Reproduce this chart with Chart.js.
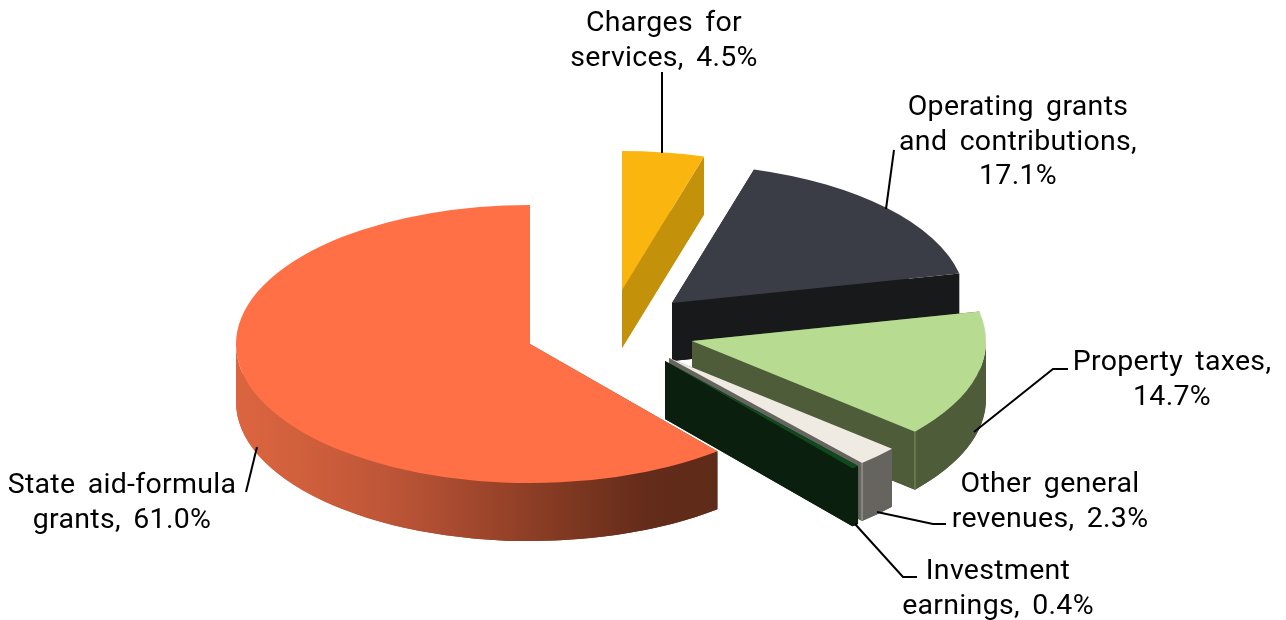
<!DOCTYPE html>
<html>
<head>
<meta charset="utf-8">
<title>Revenue by source</title>
<script src="https://cdn.jsdelivr.net/npm/chart.js@4/dist/chart.umd.js"></script>
<style>
    html, body { margin: 0; padding: 0; background: #fff; overflow: hidden; }
    canvas { display: block; }
</style>
</head>
<body>
<canvas id="revenueChart" width="1286" height="620"></canvas>
<script>
// Slices, clockwise from twelve o'clock. %v is swapped for the value when labels are drawn
const categories = [
    'Charges for\nservices, %v%',
    'Operating grants\nand contributions,\n%v%',
    'Property taxes,\n%v%',
    'Other general\nrevenues, %v%',
    'Investment\nearnings, %v%',
    'State aid-formula\ngrants, %v%'
];
const shares = [4.5, 17.1, 14.7, 2.3, 0.4, 61.0];

const topColors = ['#fbb50f', '#3a3d45', '#b7dc91', '#efeae2', '#0f4a1c', '#ff7046'];
const wallColors = ['#c4910b', '#18191b', '#4e5c3a', '#65645f', '#0a1f0e', null];
const seamColors = [null, null, '#7f9460', '#a8a7a2', null, null];

// Back-to-front paint order, and how far each slice is pulled away from the pie centre
const paintOrder = [1, 0, 5, 2, 3, 4];
const sliceShift = [[-21, -20], [29, -7], [49, 31], [26, 48], [22, 51], [-113, 34]];

const TILT = 0.473;
const DEPTH = 58;

// Leader lines and where each label is centred
const leaders = [
    [[662, 72], [662, 153]],
    [[894, 150], [886, 209]],
    [[1068, 369], [1053, 369], [974, 432]],
    [[946, 524], [933, 524], [877, 512]],
    [[917, 577], [903, 577], [855, 524]],
    [[257, 447], [246, 492]]
];
const labelAnchors = [[664, 31], [1018, 115], [1172, 370], [1050, 492], [998, 579], [122, 493]];

function arcGeometry(arc, dx, dy) {
    const p = arc.getProps(['x', 'y', 'startAngle', 'endAngle', 'outerRadius']);
    return { cx: p.x + dx, cy: p.y + dy, a0: p.startAngle, a1: p.endAngle, rx: p.outerRadius, ry: p.outerRadius * TILT };
}

function rimPoint(g, angle) {
    return [g.cx + g.rx * Math.cos(angle), g.cy + g.ry * Math.sin(angle)];
}

function fillSector(ctx, g, dy) {
    ctx.beginPath();
    ctx.moveTo(g.cx, g.cy + dy);
    ctx.ellipse(g.cx, g.cy + dy, g.rx, g.ry, 0, g.a0, g.a1);
    ctx.closePath();
    ctx.fill();
}

// Flat cut face between the apex and the rim at one angle
function fillCutFace(ctx, g, angle) {
    const [x, y] = rimPoint(g, angle);
    ctx.beginPath();
    ctx.moveTo(g.cx, g.cy);
    ctx.lineTo(x, y);
    ctx.lineTo(x, y + DEPTH);
    ctx.lineTo(g.cx, g.cy + DEPTH);
    ctx.closePath();
    ctx.fill();
}

// Only the front half of the rim (angles 0 to PI on canvas) can be seen
function fillRim(ctx, g) {
    const from = Math.max(g.a0, 0);
    const to = Math.min(g.a1, Math.PI);
    if (from >= to) return;
    ctx.beginPath();
    ctx.ellipse(g.cx, g.cy, g.rx, g.ry, 0, from, to);
    ctx.ellipse(g.cx, g.cy + DEPTH, g.rx, g.ry, 0, to, from, true);
    ctx.closePath();
    ctx.fill();
}

// The big slice's wall darkens towards its right end
function stateAidWall(ctx) {
    const grad = ctx.createLinearGradient(236, 0, 717, 0);
    grad.addColorStop(0, '#dc6540');
    grad.addColorStop(0.15, '#cf5f3c');
    grad.addColorStop(0.35, '#b95336');
    grad.addColorStop(0.6, '#8f3f26');
    grad.addColorStop(0.85, '#642c1a');
    grad.addColorStop(1, '#5f2b19');
    return grad;
}

// Pie controller that extrudes every slice and squashes it into an ellipse
class Pie3DController extends Chart.PieController {
    draw() {
        const ctx = this.chart.ctx;
        const arcs = this.getMeta().data;
        paintOrder.forEach(i => {
            const [dx, dy] = sliceShift[i];
            const g = arcGeometry(arcs[i], dx, dy);
            ctx.save();
            ctx.fillStyle = wallColors[i] || stateAidWall(ctx);
            fillSector(ctx, g, DEPTH);
            fillCutFace(ctx, g, g.a0);
            fillCutFace(ctx, g, g.a1);
            fillRim(ctx, g);
            if (seamColors[i]) {
                const [x, y] = rimPoint(g, g.a1);
                ctx.strokeStyle = seamColors[i];
                ctx.lineWidth = 1;
                ctx.beginPath();
                ctx.moveTo(x, y);
                ctx.lineTo(x, y + DEPTH);
                ctx.stroke();
            }
            ctx.fillStyle = topColors[i];
            fillSector(ctx, g, 0);
            ctx.restore();
        });
    }
}
Pie3DController.id = 'pie3d';
Pie3DController.defaults = Chart.PieController.defaults;
Chart.register(Pie3DController);

const sliceLabels = {
    id: 'sliceLabels',
    afterDatasetsDraw(chart) {
        const ctx = chart.ctx;
        ctx.save();
        ctx.strokeStyle = '#000';
        ctx.lineWidth = 2;
        leaders.forEach(points => {
            ctx.beginPath();
            points.forEach(([x, y], n) => n ? ctx.lineTo(x, y) : ctx.moveTo(x, y));
            ctx.stroke();
        });

        ctx.fillStyle = '#000';
        ctx.font = '28.5px Roboto';
        ctx.letterSpacing = '0.3px';
        ctx.wordSpacing = '5px';
        ctx.textAlign = 'center';
        ctx.textBaseline = 'alphabetic';
        chart.data.labels.forEach((label, i) => {
            const value = chart.data.datasets[0].data[i].toFixed(1);
            label.replace('%v', value).split('\n').forEach((line, n) => {
                ctx.fillText(line, labelAnchors[i][0], labelAnchors[i][1] + n * 34.5);
            });
        });
        ctx.restore();
    }
};

new Chart(document.getElementById('revenueChart'), {
    type: 'pie3d',
    data: {
        labels: categories,
        datasets: [{
            data: shares,
            backgroundColor: topColors,
            borderWidth: 0
        }]
    },
    options: {
        responsive: false,
        animation: false,
        layout: { padding: { top: 16, bottom: 16 } },
        plugins: {
            legend: { display: false },
            tooltip: { enabled: false }
        }
    },
    plugins: [sliceLabels]
});
</script>
</body>
</html>
